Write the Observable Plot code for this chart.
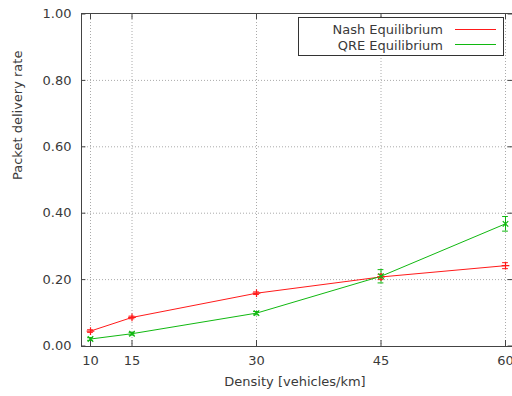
<!DOCTYPE html>
<html>
<head>
<meta charset="utf-8">
<script src="https://cdn.jsdelivr.net/npm/d3@7"></script>
<script src="https://cdn.jsdelivr.net/npm/@observablehq/plot@0.6"></script>
<style>
  html, body { margin: 0; padding: 0; background: #fff; overflow: hidden; }
  #wrap { position: relative; width: 512px; height: 396px; font-family: "DejaVu Sans", sans-serif; }
  #legend { position: absolute; left: 298px; top: 17px; width: 206px; height: 39px; border: 1px solid #333; background: #fff; box-sizing: border-box; }
  .lrow { position: absolute; left: 0; width: 100%; height: 16px; font-size: 13px; color: #3a3a3a; }
  .lrow span { position: absolute; right: 60px; top: 0; white-space: nowrap; }
  .lrow svg { position: absolute; left: 156px; top: 0; }
</style>
</head>
<body>
<div id="wrap"></div>
<script>
const density = [10, 15, 30, 45, 60];
const nash = [0.045, 0.086, 0.159, 0.208, 0.242];
const nashErr = [0.004, 0.004, 0.004, 0.008, 0.009];
const qre = [0.021, 0.037, 0.099, 0.210, 0.368];
const qreErr = [0.004, 0.004, 0.005, 0.020, 0.022];
const seriesNames = ["Nash Equilibrium", "QRE Equilibrium"];
const seriesColors = ["#ff1a1a", "#10b810"];
const xTicks = [10, 15, 30, 45, 60];
const yTicks = [0, 0.2, 0.4, 0.6, 0.8, 1.0];

const rows = [];
density.forEach((d, i) => {
  rows.push({x: d, y: nash[i], e: nashErr[i], s: seriesNames[0]});
  rows.push({x: d, y: qre[i], e: qreErr[i], s: seriesNames[1]});
});

const W = 512, H = 396;
const xRange = [81.7, 513.3];
const yRange = [345.5, 13.5];
const pw = xRange[1] - xRange[0];
const ph = yRange[0] - yRange[1];
const tk = 5;
const capW = 0.35;
const textColor = "#3a3a3a";
const frameColor = "#444";

const chart = Plot.plot({
  width: W, height: H,
  marginLeft: 81, marginRight: 0, marginTop: 13, marginBottom: 50,
  style: {fontFamily: "DejaVu Sans, sans-serif", fontSize: "13px", color: textColor, background: "#fff"},
  x: {domain: [9, 61], range: xRange},
  y: {domain: [0, 1], range: yRange},
  color: {domain: seriesNames, range: seriesColors},
  marks: [
    Plot.ruleX(xTicks, {x: d => d, stroke: "#aaa", strokeDasharray: "1,2", strokeWidth: 1}),
    Plot.ruleY(yTicks.slice(1, -1), {y: d => d, stroke: "#aaa", strokeDasharray: "1,2", strokeWidth: 1}),
    Plot.frame({stroke: frameColor, strokeWidth: 1}),
    Plot.tickY(yTicks, {y: d => d, stroke: frameColor, insetRight: pw - tk}),
    Plot.tickY(yTicks, {y: d => d, stroke: frameColor, insetLeft: pw - tk}),
    Plot.tickX(xTicks, {x: d => d, stroke: frameColor, insetTop: ph - tk}),
    Plot.tickX(xTicks, {x: d => d, stroke: frameColor, insetBottom: ph - tk}),
    Plot.axisX({ticks: xTicks, tickSize: 0, tickPadding: 9, tickFormat: d => String(d), label: null, color: textColor}),
    Plot.axisY({ticks: yTicks, tickSize: 0, tickPadding: 10, tickFormat: d => d.toFixed(2), label: null, color: textColor}),
    Plot.line(rows, {x: "x", y: "y", z: "s", stroke: "s", strokeWidth: 1}),
    Plot.ruleX(rows, {x: "x", y1: d => d.y - d.e, y2: d => d.y + d.e, stroke: "s", strokeWidth: 1}),
    Plot.ruleY(rows, {y: d => d.y - d.e, x1: d => d.x - capW, x2: d => d.x + capW, stroke: "s", strokeWidth: 1}),
    Plot.ruleY(rows, {y: d => d.y + d.e, x1: d => d.x - capW, x2: d => d.x + capW, stroke: "s", strokeWidth: 1}),
    Plot.dot(rows.filter(d => d.s === seriesNames[0]), {x: "x", y: "y", stroke: "s", symbol: "plus", r: 2.6, strokeWidth: 1.2}),
    Plot.dot(rows.filter(d => d.s === seriesNames[1]), {x: "x", y: "y", stroke: "s", symbol: "times", r: 2.6, strokeWidth: 1.2}),
    Plot.text(["Packet delivery rate"], {text: d => d, frameAnchor: "left", rotate: -90, dx: -64, fill: textColor, fontSize: 13}),
    Plot.text(["Density [vehicles/km]"], {text: d => d, frameAnchor: "bottom", dy: 39, dx: -2, fill: textColor, fontSize: 13})
  ]
});
const wrap = document.getElementById("wrap");
wrap.appendChild(chart);

const legend = document.createElement("div");
legend.id = "legend";
seriesNames.forEach((name, i) => {
  const row = document.createElement("div");
  row.className = "lrow";
  row.style.top = (i === 0 ? 4 : 20) + "px";
  const sp = document.createElement("span");
  sp.textContent = name;
  row.appendChild(sp);
  const svg = document.createElementNS("http://www.w3.org/2000/svg", "svg");
  svg.setAttribute("width", "42"); svg.setAttribute("height", "16");
  const ln = document.createElementNS("http://www.w3.org/2000/svg", "line");
  ln.setAttribute("x1", "0"); ln.setAttribute("x2", "41");
  ln.setAttribute("y1", i === 0 ? "7.5" : "6.5"); ln.setAttribute("y2", i === 0 ? "7.5" : "6.5");
  ln.setAttribute("stroke", seriesColors[i]); ln.setAttribute("stroke-width", "1");
  svg.appendChild(ln);
  row.appendChild(svg);
  legend.appendChild(row);
});
wrap.appendChild(legend);
</script>
</body>
</html>
